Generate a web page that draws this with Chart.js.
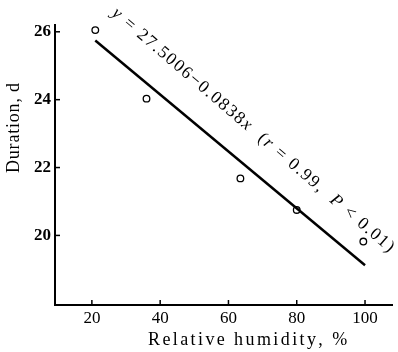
<!DOCTYPE html>
<html>
<head>
<meta charset="utf-8">
<script src="https://cdn.jsdelivr.net/npm/chart.js@4.4.0/dist/chart.umd.min.js"></script>
<style>
  html, body { margin: 0; padding: 0; background: #fff; }
  #wrap { width: 398px; height: 352px; position: relative; }
</style>
</head>
<body>
<div id="wrap"><canvas id="chart1" width="398" height="352"></canvas></div>
<script>
// observed values
const humidity = [21, 36, 63.5, 80, 99.5];
const duration = [26.05, 24.03, 21.68, 20.75, 19.82];
// regression y = 27.5006 - 0.0838x, drawn over the observed range
const fitX = [21, 100];
const fitY = fitX.map((x) => 27.5006 - 0.0838 * x);
const xTicks = [20, 40, 60, 80, 100];
const yTicks = [20, 22, 24, 26];
const xTitle = 'Relative humidity, %';
const yTitle = 'Duration, d';

const serif = '"Liberation Serif", "DejaVu Serif", serif';

// spaced text helper, draws char by char so it fits a given width
function spacedText(ctx, parts, size, target) {
  let total = 0;
  let n = 0;
  parts.forEach(([t, it]) => {
    ctx.font = (it ? 'italic ' : '') + size + 'px ' + serif;
    total += ctx.measureText(t).width;
    n += t.length;
  });
  const extra = (target - total) / (n - 1);
  let cx = -target / 2;
  parts.forEach(([t, it]) => {
    ctx.font = (it ? 'italic ' : '') + size + 'px ' + serif;
    for (const ch of t) {
      ctx.fillText(ch, cx, 0);
      cx += ctx.measureText(ch).width + extra;
    }
  });
}

// ticks pointing inward, axis titles, rotated regression label
const decorations = {
  id: 'decorations',
  afterDraw(chart) {
    const ctx = chart.ctx;
    const xs = chart.scales.x;
    const ys = chart.scales.y;
    const area = chart.chartArea;
    ctx.save();
    ctx.strokeStyle = '#000';
    ctx.lineWidth = 1.5;
    xTicks.forEach((v) => {
      const px = xs.getPixelForValue(v);
      ctx.beginPath();
      ctx.moveTo(px, area.bottom);
      ctx.lineTo(px, area.bottom - 5);
      ctx.stroke();
    });
    yTicks.forEach((v) => {
      const py = ys.getPixelForValue(v);
      ctx.beginPath();
      ctx.moveTo(area.left, py);
      ctx.lineTo(area.left + 5, py);
      ctx.stroke();
    });
    ctx.fillStyle = '#000';
    ctx.textBaseline = 'middle';

    // axis titles
    ctx.save();
    ctx.translate(247, 340);
    spacedText(ctx, [[xTitle, false]], 18, 198);
    ctx.restore();
    ctx.save();
    ctx.translate(14, 128);
    ctx.rotate(-Math.PI / 2);
    spacedText(ctx, [[yTitle, false]], 18, 90);
    ctx.restore();

    // equation text along the line
    const parts = [
      ['y', true], [' = 27.5006\u22120.0838', false], ['x', true],
      ['  (', false], ['r', true], [' = 0.99,  ', false], ['P', true], [' < 0.01)', false],
    ];
    const target = 366;
    ctx.translate(114, 11);
    ctx.rotate((40.6 * Math.PI) / 180);
    ctx.translate(target / 2, 0);
    spacedText(ctx, parts, 17.5, target);
    ctx.restore();
  },
};

new Chart(document.getElementById('chart1').getContext('2d'), {
  type: 'scatter',
  data: {
    datasets: [
      {
        label: 'fit',
        data: fitX.map((x, i) => ({ x: x, y: fitY[i] })),
        showLine: true,
        borderColor: '#000',
        borderWidth: 2.5,
        pointRadius: 0,
      },
      {
        label: 'observed',
        data: humidity.map((x, i) => ({ x: x, y: duration[i] })),
        pointRadius: 3.3,
        pointBorderWidth: 1.3,
        pointBorderColor: '#000',
        pointBackgroundColor: '#fff',
      },
    ],
  },
  options: {
    responsive: false,
    animation: false,
    layout: { padding: { top: 25, right: 6, left: 0, bottom: 0 } },
    plugins: { legend: { display: false }, tooltip: { enabled: false } },
    scales: {
      x: {
        type: 'linear',
        min: 9.2,
        max: 107.9,
        afterFit: (s) => { s.height = 47; },
        afterBuildTicks: (s) => { s.ticks = xTicks.map((v) => ({ value: v })); },
        grid: { display: false, drawTicks: false },
        border: { display: true, color: '#000', width: 2 },
        ticks: { color: '#000', padding: 3, font: { family: serif, size: 17 } },
      },
      y: {
        type: 'linear',
        min: 17.95,
        max: 26.2,
        afterFit: (s) => { s.width = 55; },
        afterBuildTicks: (s) => { s.ticks = yTicks.map((v) => ({ value: v })); },
        grid: { display: false, drawTicks: false },
        border: { display: true, color: '#000', width: 2 },
        ticks: { color: '#000', padding: 4, font: { family: serif, size: 17, weight: 'bold' } },
      },
    },
  },
  plugins: [decorations],
});
</script>
</body>
</html>
